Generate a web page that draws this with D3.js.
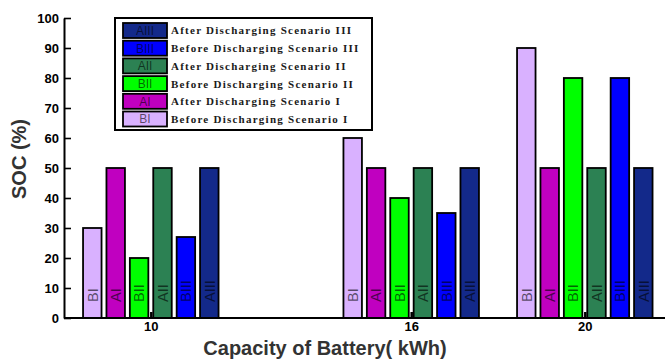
<!DOCTYPE html>
<html>
<head>
<meta charset="utf-8">
<script src="https://cdn.jsdelivr.net/npm/d3@7"></script>
<style>
  html, body { margin: 0; padding: 0; background: #fff; }
  svg { display: block; }
</style>
</head>
<body>
<svg id="chart" width="665" height="360"></svg>
<script>
// Battery capacity groups (kWh) and the state of charge for each scenario (%)
const capacities = [10, 16, 20];
const seriesKeys = ["BI", "AI", "BII", "AII", "BIII", "AIII"];
const seriesNames = [
  "Before Discharging Scenario I",
  "After Discharging Scenario I",
  "Before Discharging Scenario II",
  "After Discharging Scenario II",
  "Before Discharging Scenario III",
  "After Discharging Scenario III"
];
const BI   = [30, 60, 90];
const AI   = [50, 50, 50];
const BII  = [20, 40, 80];
const AII  = [50, 50, 50];
const BIII = [27, 35, 80];
const AIII = [50, 50, 50];
const yTicks = [0, 10, 20, 30, 40, 50, 60, 70, 80, 90, 100];
const xTicks = [10, 16, 20];

const seriesColors = ["#d9b1ff", "#c000c0", "#00ff00", "#2c8153", "#0000ff", "#13298a"];

const seriesValues = [BI, AI, BII, AII, BIII, AIII];
const rows = [];
capacities.forEach((c, i) => {
  seriesKeys.forEach((k, j) => rows.push({ cap: c, key: k, value: seriesValues[j][i], color: seriesColors[j] }));
});

const svg = d3.select("#chart");
const plotLeft = 64, plotBottom = 318, plotTop = 18;

const x = d3.scaleLinear().domain([8, 22]).range([plotLeft, plotLeft + 14 * 43.4]);
const y = d3.scaleLinear().domain([0, 100]).range([plotBottom, plotTop]);
const groupWidth = 135.5;
const inner = d3.scaleBand().domain(seriesKeys)
  .range([-groupWidth / 2, groupWidth / 2]).paddingInner(0.21).paddingOuter(0);

const sans = "'Liberation Sans', Arial, sans-serif";

// bars
const bars = svg.append("g");
bars.selectAll("rect").data(rows).join("rect")
  .attr("x", d => x(d.cap) + inner(d.key))
  .attr("y", d => y(d.value))
  .attr("width", inner.bandwidth())
  .attr("height", d => y(0) - y(d.value))
  .attr("fill", d => d.color)
  .attr("stroke", "#000")
  .attr("stroke-width", 1.8);

// rotated scenario labels at the foot of each bar
bars.selectAll("text").data(rows).join("text")
  .attr("transform", d => `translate(${x(d.cap) + inner(d.key) + inner.bandwidth() / 2},${y(0) - 16}) rotate(-90)`)
  .attr("dy", "0.36em")
  .attr("font-family", sans)
  .attr("font-size", 14.5)
  .attr("fill", "#000")
  .attr("fill-opacity", 0.6)
  .text(d => d.key);

// axes with inward ticks
const yAxis = d3.axisLeft(y).tickValues(yTicks).tickSizeInner(-7).tickSizeOuter(0).tickPadding(5);
const gy = svg.append("g").attr("transform", `translate(${plotLeft},0)`).call(yAxis);
gy.select(".domain").attr("stroke-width", 2);
gy.selectAll(".tick line").attr("stroke-width", 1.6);
gy.selectAll("text").attr("font-family", sans).attr("font-size", 13).attr("font-weight", "bold").attr("fill", "#000");

const xAxis = d3.axisBottom(x).tickValues(xTicks).tickSizeInner(-6).tickSizeOuter(0).tickPadding(4);
const gx = svg.append("g").attr("transform", `translate(0,${plotBottom})`).call(xAxis);
gx.select(".domain").attr("stroke-width", 2).attr("d", `M${plotLeft},0H${x(22)}`);
gx.selectAll(".tick line").attr("stroke-width", 2.5);
gx.selectAll("text").attr("font-family", sans).attr("font-size", 13).attr("font-weight", "bold").attr("fill", "#000");

// axis titles
svg.append("text")
  .attr("x", 325).attr("y", 355)
  .attr("text-anchor", "middle")
  .attr("font-family", sans).attr("font-size", 20).attr("font-weight", "bold")
  .attr("fill", "#333")
  .text("Capacity of Battery( kWh)");

svg.append("text")
  .attr("transform", "translate(26,159) rotate(-90)")
  .attr("text-anchor", "middle")
  .attr("font-family", sans).attr("font-size", 20).attr("font-weight", "bold")
  .attr("fill", "#333")
  .text("SOC (%)");

// legend, listed from the last series to the first
const legend = svg.append("g");
legend.append("rect")
  .attr("x", 115).attr("y", 18).attr("width", 257).attr("height", 112)
  .attr("fill", "#fff").attr("stroke", "#000").attr("stroke-width", 2);

const order = d3.range(seriesKeys.length).reverse();
const item = legend.selectAll("g.item").data(order).join("g")
  .attr("class", "item")
  .attr("transform", (d, i) => `translate(123,${23 + i * 17.7})`);

item.append("rect")
  .attr("width", 44).attr("height", 15)
  .attr("fill", d => seriesColors[d])
  .attr("stroke", "#000").attr("stroke-width", 1.8);

item.append("text")
  .attr("x", 22).attr("y", 7.5).attr("dy", "0.36em")
  .attr("text-anchor", "middle")
  .attr("font-family", sans).attr("font-size", 12)
  .attr("fill", "#000").attr("fill-opacity", 0.6)
  .text(d => seriesKeys[d]);

item.append("text")
  .attr("x", 48).attr("y", 7.5).attr("dy", "0.36em")
  .attr("font-family", "'Liberation Serif', 'Times New Roman', serif")
  .attr("font-size", 11).attr("font-weight", "bold")
  .attr("letter-spacing", 1.25)
  .attr("fill", "#1a1a1a")
  .text(d => seriesNames[d]);
</script>
</body>
</html>
